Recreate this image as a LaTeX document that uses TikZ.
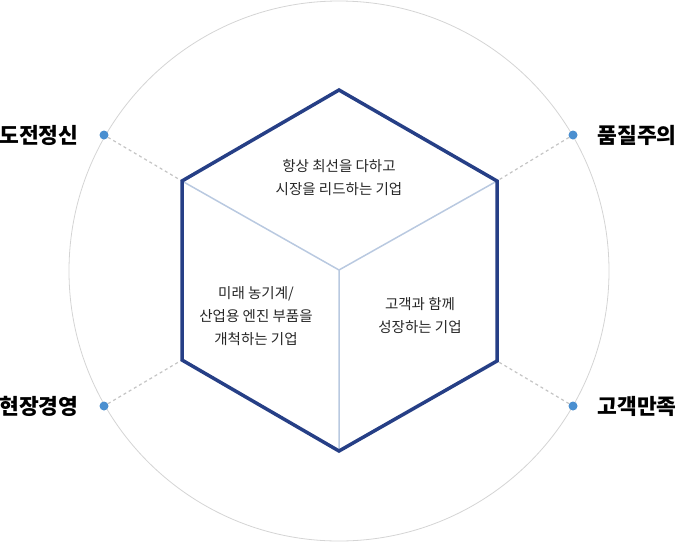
\documentclass[tikz,border=0pt]{standalone}
\usepackage{fontspec}
\newfontfamily\kr{Noto Sans CJK KR}
\definecolor{hexc}{HTML}{263F86}
\definecolor{innc}{HTML}{B9C9E0}
\definecolor{circc}{HTML}{D4D4D4}
\definecolor{dotc}{HTML}{4A8FD0}
\definecolor{dashc}{HTML}{C4C4C4}
\begin{document}
\begin{tikzpicture}[x=1pt,y=-1pt,
  dotn/.style={circle,fill=dotc,inner sep=0pt,minimum size=9pt},
  val/.style={font=\kr\bfseries\fontsize{21.5}{26}\selectfont,text=black},
  body/.style={font=\kr\fontsize{14.5}{23}\selectfont,align=center,text=black!85},
  dashl/.style={draw=dashc,dashed,line width=1.2pt}]
\useasboundingbox (0,0) rectangle (677,542);
\node[draw=circc,circle,line width=0.8pt,minimum size=540pt,inner sep=0pt] (circ) at (339,271) {};
\coordinate (c) at (339,270);
\coordinate (t) at (339,90);
\coordinate (ur) at (497,181);
\coordinate (lr) at (497,361);
\coordinate (b) at (339,451);
\coordinate (ll) at (182,360);
\coordinate (ul) at (182,181);
\node[dotn] (d1) at (104,135) {};
\node[dotn] (d2) at (573,135) {};
\node[dotn] (d3) at (104,406) {};
\node[dotn] (d4) at (573,406) {};
\draw[dashl] (d1) -- (ul);
\draw[dashl] (d2) -- (ur);
\draw[dashl] (d3) -- (ll);
\draw[dashl] (d4) -- (lr);
\draw[innc,line width=1.5pt] (c) -- (ul) (c) -- (ur) (c) -- (b);
\draw[hexc,line width=3.5pt,line join=miter] (t) -- (ur) -- (lr) -- (b) -- (ll) -- (ul) -- cycle;
\node[val,anchor=east] (l1) at (82,135) {도전정신};
\node[val,anchor=west] (l2) at (594,135) {품질주의};
\node[val,anchor=east] (l3) at (82,406) {현장경영};
\node[val,anchor=west] (l4) at (594,406) {고객만족};
\node[body] (tx1) at (339,178) {항상 최선을 다하고\\시장을 리드하는 기업};
\node[body] (tx2) at (256,316) {미래 농기계/\\산업용 엔진 부품을\\개척하는 기업};
\node[body] (tx3) at (420,316) {고객과 함께\\성장하는 기업};
\end{tikzpicture}
\end{document}
